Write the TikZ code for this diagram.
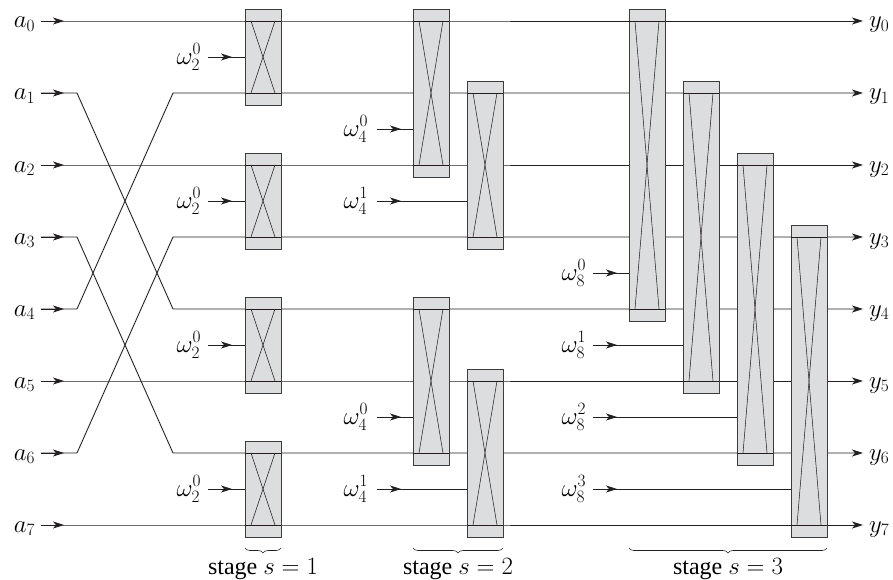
\documentclass[tikz,border=0pt]{standalone}
\usepackage{fontspec}
\setmainfont{Liberation Serif}
\usetikzlibrary{arrows.meta,decorations.pathreplacing}
\definecolor{boxfill}{RGB}{220,221,223}
\definecolor{ink}{RGB}{35,31,32}
\definecolor{boxline}{RGB}{60,60,60}
\tikzset{
  wire/.style={draw=ink,line width=0.9pt},
  endtip/.style={-{Stealth[length=11pt,width=7pt,inset=3pt]}},
  arr/.style={draw=ink,line width=0.9pt,-{Stealth[length=11pt,width=7pt,inset=3pt]}},
  bbox/.style={fill=boxfill,draw=boxline,line width=0.9pt,inner sep=0pt,outer sep=0pt,minimum width=36pt},
  xline/.style={draw=ink,line width=0.55pt},
  lbl/.style={inner sep=0pt,outer sep=0pt},
  brc/.style={draw=ink,line width=0.6pt,decorate,decoration={brace,mirror,amplitude=5pt}}
}
\newcommand\bfly[4]{%
  \pgfmathsetmacro\bt{21+72*#3}%
  \pgfmathsetmacro\bb{21+72*#4}%
  \pgfmathsetmacro\bh{\bb-\bt+24}%
  \node[bbox,minimum height=\bh pt,anchor=north west] (#1) at (#2,\bt-12) {};
  \coordinate (#1tl) at (#2,\bt); \coordinate (#1tr) at (#2+36,\bt);
  \coordinate (#1bl) at (#2,\bb); \coordinate (#1br) at (#2+36,\bb);
  \coordinate (#1xa) at (#2+6,\bt); \coordinate (#1xb) at (#2+30,\bt);
  \coordinate (#1xc) at (#2+6,\bb); \coordinate (#1xd) at (#2+30,\bb);
  \draw[wire] (#1tl) -- (#1tr);
  \draw[wire] (#1bl) -- (#1br);
  \draw[xline] (#1xa) -- (#1xd);
  \draw[xline] (#1xb) -- (#1xc);
}
% name, sub, sup, label-east x, arrow start x, box x, y
\newcommand\twid[7]{%
  \node[lbl,anchor=east] (#1) at (#4,#7) {$\omega_{#2}^{#3}$};
  \coordinate (#1s) at (#5,#7); \coordinate (#1t) at (#5+24,#7); \coordinate (#1e) at (#6,#7);
  \draw[wire] (#1s) -- (#1e);
  \draw[arr] (#1s) -- (#1t);
}
\begin{document}
\begin{tikzpicture}[x=1pt,y=-1pt,font=\fontsize{24}{28}\selectfont]
\useasboundingbox (0,0) rectangle (893,580);
\foreach \i [evaluate=\i as \yy using 21+72*\i] in {0,...,7}{
  \node[lbl,anchor=base east] (a\i) at (35,\yy+7) {$a_{\i}$};
  \node[lbl,anchor=base west] (y\i) at (869,\yy+7) {$y_{\i}$};
  \coordinate (in\i) at (41,\yy);
  \coordinate (ia\i) at (64,\yy);
  \coordinate (kn\i) at (77,\yy);
  \coordinate (pm\i) at (173,\yy);
  \coordinate (out\i) at (863,\yy);
}
\foreach \i/\p in {0/0,1/4,2/2,3/6,4/1,5/5,6/3,7/7}{
  \draw[wire,endtip] (in\i) -- (kn\i) -- (pm\p) -- (out\p);
  \draw[arr] (in\i) -- (ia\i);
}
% stage 1
\bfly{sA}{245}{0}{1}
\bfly{sB}{245}{2}{3}
\bfly{sC}{245}{4}{5}
\bfly{sD}{245}{6}{7}
\twid{wA}{2}{0}{201}{208}{245}{57}
\twid{wB}{2}{0}{201}{208}{245}{201}
\twid{wC}{2}{0}{201}{208}{245}{345}
\twid{wD}{2}{0}{201}{208}{245}{489}
% stage 2
\bfly{tA}{413}{0}{2}
\bfly{tB}{467}{1}{3}
\bfly{tC}{413}{4}{6}
\bfly{tD}{467}{5}{7}
\twid{vA}{4}{0}{368}{377}{413}{129}
\twid{vB}{4}{1}{368}{377}{467}{201}
\twid{vC}{4}{0}{368}{377}{413}{417}
\twid{vD}{4}{1}{368}{377}{467}{489}
% stage 3
\bfly{uA}{629}{0}{4}
\bfly{uB}{683}{1}{5}
\bfly{uC}{737}{2}{6}
\bfly{uD}{791}{3}{7}
\twid{xA}{8}{0}{586}{593}{629}{273}
\twid{xB}{8}{1}{586}{593}{683}{345}
\twid{xC}{8}{2}{586}{593}{737}{417}
\twid{xD}{8}{3}{586}{593}{791}{489}
% braces
\coordinate (b1l) at (245,548); \coordinate (b1r) at (281,548);
\coordinate (b2l) at (413,548); \coordinate (b2r) at (503,548);
\coordinate (b3l) at (629,548); \coordinate (b3r) at (827,548);
\draw[brc] (b1l) -- (b1r);
\draw[brc] (b2l) -- (b2r);
\draw[brc] (b3l) -- (b3r);
\node[lbl,anchor=base] (st1) at (263,574) {stage $s=1$};
\node[lbl,anchor=base] (st2) at (458,574) {stage $s=2$};
\node[lbl,anchor=base] (st3) at (728,574) {stage $s=3$};
\end{tikzpicture}
\end{document}
